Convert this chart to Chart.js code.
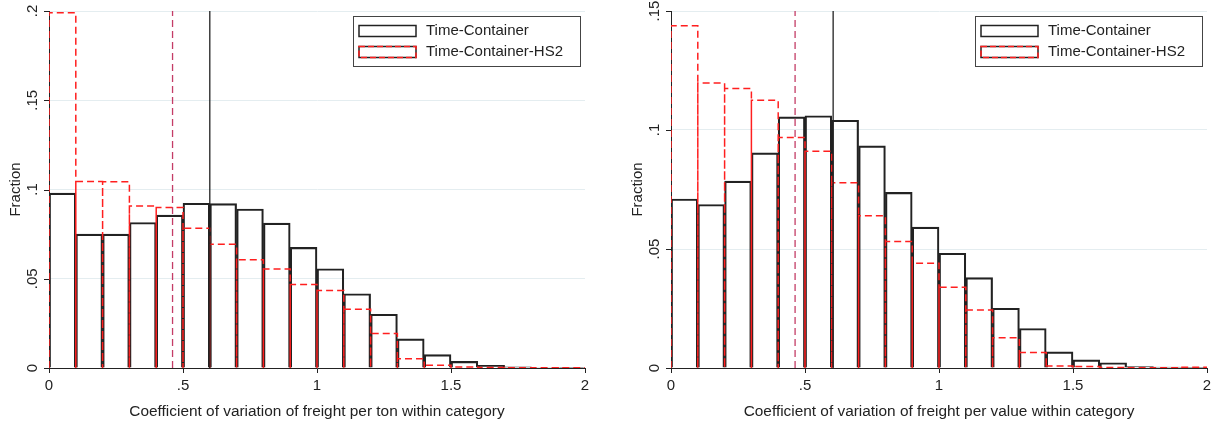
<!DOCTYPE html>
<html>
<head>
<meta charset="utf-8">
<script src="https://cdn.jsdelivr.net/npm/chart.js@4.4.1/dist/chart.umd.min.js"></script>
<style>
    html, body { margin: 0; padding: 0; background: #fff; }
    #wrap { position: relative; width: 1219px; height: 427px; overflow: hidden; }
    canvas { position: absolute; top: 0; }
    #tonChart { left: 0; }
    #valueChart { left: 622px; }
</style>
</head>
<body>
<div id="wrap">
    <canvas id="tonChart" width="597" height="427"></canvas>
    <canvas id="valueChart" width="597" height="427"></canvas>
</div>
<script>
// Histogram bins (start of each bin), width 0.1
const binStarts = [0, 0.1, 0.2, 0.3, 0.4, 0.5, 0.6, 0.7, 0.8, 0.9,
                   1.0, 1.1, 1.2, 1.3, 1.4, 1.5, 1.6, 1.7, 1.8, 1.9];
const binWidth = 0.1;

const seriesNames = ['Time-Container', 'Time-Container-HS2'];

// Left panel: freight per ton
const tonContainer = [0.098, 0.075, 0.075, 0.0815, 0.0856, 0.0923, 0.0921, 0.0891, 0.0812, 0.0676,
                      0.0556, 0.0416, 0.0301, 0.0163, 0.0075, 0.0037, 0.0015, 0.0006, 0.0003, 0.0002];
const tonContainerHS2 = [0.199, 0.1045, 0.1043, 0.0908, 0.0899, 0.0783, 0.0693, 0.0607, 0.0554, 0.0468,
                         0.0434, 0.0329, 0.0193, 0.0052, 0.0015, 0.0006, 0.0003, 0.0001, 0.0001, 0.0001];
const tonMeans = [0.6, 0.461];   // [Time-Container, Time-Container-HS2]

// Right panel: freight per value
const valueContainer = [0.071, 0.0687, 0.0785, 0.0904, 0.1055, 0.106, 0.1041, 0.0933, 0.0738, 0.0592,
                        0.0482, 0.038, 0.0251, 0.0166, 0.0068, 0.0034, 0.0022, 0.0006, 0.0004, 0.0003];
const valueContainerHS2 = [0.1438, 0.1197, 0.1174, 0.1125, 0.0969, 0.0911, 0.0778, 0.064, 0.0531, 0.044,
                           0.0339, 0.0244, 0.0127, 0.0065, 0.0008, 0.0006, 0.0002, 0.0001, 0.0001, 0.0003];
const valueMeans = [0.605, 0.463];

// Tick labels
const xTicks = [0, 0.5, 1, 1.5, 2];
const tonYTicks = [0, 0.05, 0.1, 0.15, 0.2];
const valueYTicks = [0, 0.05, 0.1, 0.15];

const FONT = '"Liberation Sans", Arial, sans-serif';
const INK = '#222';
const HS2_RED = '#ff1f1f';

// Stata-style number: .5 instead of 0.5
function stataNumber(v) {
    return String(Math.round(v * 1000) / 1000).replace(/^0\./, '.');
}

// Bars centred in each bin
function histogramBars(values) {
    return binStarts.map((s, i) => ({ x: s + binWidth / 2, y: values[i] }));
}

// Outline of every bin as one path (for the dashed histogram)
function histogramOutline(values) {
    const pts = [];
    binStarts.forEach((s, i) => {
        pts.push({ x: s, y: 0 }, { x: s, y: values[i] },
                 { x: s + binWidth, y: values[i] }, { x: s + binWidth, y: 0 });
    });
    return pts;
}

function verticalLine(x, top) {
    return [{ x: x, y: 0 }, { x: x, y: top }];
}

// Rotated y tick labels (Stata draws them vertical)
const rotatedYLabels = {
    id: 'rotatedYLabels',
    afterDraw(chart) {
        const y = chart.scales.y;
        const ctx = chart.ctx;
        ctx.save();
        ctx.font = '15px ' + FONT;
        ctx.fillStyle = INK;
        ctx.textAlign = 'center';
        ctx.textBaseline = 'middle';
        y.ticks.forEach(t => {
            const py = y.getPixelForValue(t.value);
            // tick mark
            ctx.strokeStyle = INK;
            ctx.lineWidth = 1;
            ctx.beginPath();
            ctx.moveTo(y.right - 5, Math.round(py) + 0.5);
            ctx.lineTo(y.right, Math.round(py) + 0.5);
            ctx.stroke();
            ctx.save();
            ctx.translate(y.right - 16, py);
            ctx.rotate(-Math.PI / 2);
            ctx.fillText(stataNumber(t.value), 0, 0);
            ctx.restore();
        });
        ctx.restore();
    }
};

// Boxed legend in the top right corner of the plot
const boxLegend = {
    id: 'boxLegend',
    afterDraw(chart) {
        const ctx = chart.ctx;
        const area = chart.chartArea;
        const items = chart.data.datasets
            .filter(d => d.showInLegend)
            .sort((a, b) => seriesNames.indexOf(a.label) - seriesNames.indexOf(b.label));
        const w = 227, rowH = 21, h = 50;
        const left = area.right - 5 - w;
        const top = area.top + 5;
        ctx.save();
        ctx.fillStyle = '#fff';
        ctx.fillRect(left, top, w, h);
        ctx.strokeStyle = '#444';
        ctx.lineWidth = 1;
        ctx.strokeRect(left + 0.5, top + 0.5, w, h);
        ctx.font = '15px ' + FONT;
        ctx.textBaseline = 'middle';
        ctx.textAlign = 'left';
        items.forEach((d, i) => {
            const cy = top + 15 + i * rowH;
            ctx.lineWidth = 1.5;
            ctx.setLineDash([]);
            ctx.strokeStyle = INK;
            ctx.strokeRect(left + 6, cy - 5.5, 57, 11);
            if (d.legendDash) {
                ctx.strokeStyle = HS2_RED;
                ctx.setLineDash(d.legendDash);
                ctx.strokeRect(left + 6, cy - 5.5, 57, 11);
            }
            ctx.setLineDash([]);
            ctx.fillStyle = INK;
            ctx.fillText(d.label, left + 73, cy);
        });
        ctx.restore();
    }
};

function initHistogram(canvasId, cfg) {
    const ctx = document.getElementById(canvasId).getContext('2d');
    const yMax = cfg.yTicks[cfg.yTicks.length - 1];

    return new Chart(ctx, {
        type: 'bar',
        data: {
            datasets: [
                {
                    type: 'line',
                    label: 'mean-all',
                    data: verticalLine(cfg.means[0], yMax),
                    borderColor: INK,
                    borderWidth: 1.3,
                    pointRadius: 0,
                    order: 0
                },
                {
                    type: 'line',
                    label: 'mean-hs2',
                    data: verticalLine(cfg.means[1], yMax),
                    borderColor: '#c43c66',
                    borderWidth: 1.3,
                    borderDash: [7, 4],
                    pointRadius: 0,
                    order: 0
                },
                {
                    type: 'line',
                    label: seriesNames[1],
                    showInLegend: true,
                    legendDash: [6, 3],
                    data: histogramOutline(cfg.hs2),
                    borderColor: HS2_RED,
                    borderWidth: 1.5,
                    borderDash: [7, 4],
                    pointRadius: 0,
                    tension: 0,
                    fill: false,
                    order: 1
                },
                {
                    type: 'bar',
                    label: seriesNames[0],
                    showInLegend: true,
                    data: histogramBars(cfg.all),
                    backgroundColor: 'rgba(255,255,255,0)',
                    borderColor: INK,
                    borderWidth: 1.5,
                    barPercentage: 1,
                    categoryPercentage: 1,
                    order: 2
                }
            ]
        },
        options: {
            responsive: false,
            animation: false,
            devicePixelRatio: 1,
            layout: { padding: { top: 11, right: 12, left: 0, bottom: 0 } },
            plugins: {
                legend: { display: false },
                tooltip: { enabled: false }
            },
            scales: {
                x: {
                    type: 'linear',
                    offset: false,
                    min: 0,
                    max: 2,
                    afterBuildTicks: s => { s.ticks = xTicks.map(v => ({ value: v })); },
                    afterFit: s => { s.height = 59; },
                    ticks: {
                        callback: v => stataNumber(v),
                        font: { size: 15, family: FONT },
                        color: INK,
                        padding: 4,
                        maxRotation: 0
                    },
                    grid: {
                        offset: false,
                        drawOnChartArea: false,
                        drawTicks: true,
                        tickLength: 5,
                        tickColor: INK
                    },
                    border: { display: true, color: INK, width: 1 },
                    title: {
                        display: true,
                        text: cfg.xTitle,
                        font: { size: 15.4, family: FONT },
                        color: INK,
                        padding: { top: 4, bottom: 6 }
                    }
                },
                y: {
                    min: 0,
                    max: yMax,
                    afterBuildTicks: s => { s.ticks = cfg.yTicks.map(v => ({ value: v })); },
                    afterFit: s => { s.width = 49; },
                    ticks: { display: false },
                    grid: {
                        color: '#e4edf0',
                        lineWidth: 1,
                        drawTicks: false
                    },
                    border: { display: true, color: INK, width: 1 },
                    title: {
                        display: true,
                        text: 'Fraction',
                        font: { size: 15, family: FONT },
                        color: INK,
                        padding: { top: 7, bottom: 0 }
                    }
                }
            }
        },
        plugins: [rotatedYLabels, boxLegend]
    });
}

initHistogram('tonChart', {
    all: tonContainer,
    hs2: tonContainerHS2,
    means: tonMeans,
    yTicks: tonYTicks,
    xTitle: 'Coefficient of variation of freight per ton within category'
});

initHistogram('valueChart', {
    all: valueContainer,
    hs2: valueContainerHS2,
    means: valueMeans,
    yTicks: valueYTicks,
    xTitle: 'Coefficient of variation of freight per value within category'
});
</script>
</body>
</html>
